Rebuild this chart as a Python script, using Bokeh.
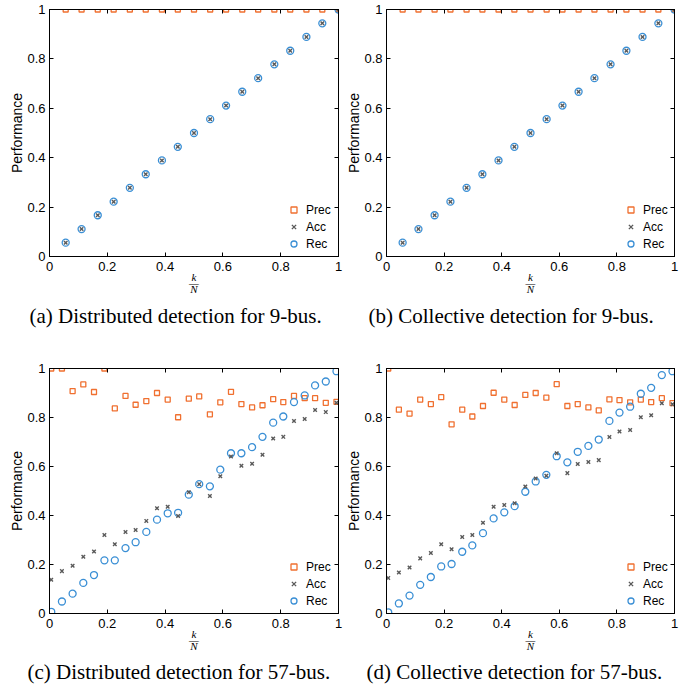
from bokeh.plotting import figure
from bokeh.models import (LinearAxis, FixedTicker, Legend, LegendItem, Title,
                          CustomJSTickFormatter, Range1d)
from bokeh.layouts import column, row
from bokeh.embed import file_html
from bokeh.resources import INLINE

# ---------------- data ----------------
TICK_VALUES = [0.0, 0.2, 0.4, 0.6, 0.8, 1.0]
TICK_LABELS = ["0", "0.2", "0.4", "0.6", "0.8", "1"]

SERIES_NAMES = ["Prec", "Acc", "Rec"]

# 9-bus (k/N for 18 steps)
x_9bus = [0.056, 0.111, 0.167, 0.222, 0.278, 0.333, 0.389, 0.444, 0.500,
          0.556, 0.611, 0.667, 0.722, 0.778, 0.833, 0.889, 0.944, 1.000]
prec_a = [1.0, 1.0, 1.0, 1.0, 1.0, 1.0, 1.0, 1.0, 1.0,
          1.0, 1.0, 1.0, 1.0, 1.0, 1.0, 1.0, 1.0, 1.0]
acc_a = [0.056, 0.111, 0.167, 0.222, 0.278, 0.333, 0.389, 0.444, 0.500,
         0.556, 0.611, 0.667, 0.722, 0.778, 0.833, 0.889, 0.944, 1.000]
rec_a = [0.056, 0.111, 0.167, 0.222, 0.278, 0.333, 0.389, 0.444, 0.500,
         0.556, 0.611, 0.667, 0.722, 0.778, 0.833, 0.889, 0.944, 1.000]
prec_b = [1.0, 1.0, 1.0, 1.0, 1.0, 1.0, 1.0, 1.0, 1.0,
          1.0, 1.0, 1.0, 1.0, 1.0, 1.0, 1.0, 1.0, 1.0]
acc_b = [0.056, 0.111, 0.167, 0.222, 0.278, 0.333, 0.389, 0.444, 0.500,
         0.556, 0.611, 0.667, 0.722, 0.778, 0.833, 0.889, 0.944, 1.000]
rec_b = [0.056, 0.111, 0.167, 0.222, 0.278, 0.333, 0.389, 0.444, 0.500,
         0.556, 0.611, 0.667, 0.722, 0.778, 0.833, 0.889, 0.944, 1.000]

# 57-bus (28 steps)
x_57bus = [0.006, 0.043, 0.080, 0.117, 0.154, 0.190, 0.226, 0.263, 0.298, 0.335,
           0.372, 0.409, 0.445, 0.482, 0.518, 0.555, 0.591, 0.628, 0.664, 0.701,
           0.737, 0.774, 0.809, 0.846, 0.883, 0.919, 0.956, 0.993]
prec_c = [1.0, 1.0, 0.908, 0.935, 0.904, 1.0, 0.837, 0.888, 0.852, 0.867,
          0.900, 0.873, 0.801, 0.877, 0.886, 0.813, 0.862, 0.905, 0.855, 0.841,
          0.850, 0.875, 0.863, 0.888, 0.879, 0.879, 0.860, 0.864]
acc_c = [0.138, 0.173, 0.195, 0.232, 0.253, 0.320, 0.283, 0.333, 0.341, 0.378,
         0.430, 0.436, 0.398, 0.495, 0.528, 0.480, 0.560, 0.641, 0.603, 0.611,
         0.648, 0.714, 0.721, 0.786, 0.794, 0.831, 0.822, 0.860]
rec_c = [0.007, 0.049, 0.081, 0.125, 0.157, 0.217, 0.217, 0.267, 0.291, 0.333,
         0.383, 0.409, 0.411, 0.485, 0.528, 0.519, 0.587, 0.654, 0.654, 0.679,
         0.721, 0.779, 0.804, 0.863, 0.890, 0.931, 0.947, 0.989]
prec_d = [1.0, 0.832, 0.816, 0.873, 0.855, 0.883, 0.772, 0.832, 0.804, 0.847,
          0.901, 0.873, 0.851, 0.892, 0.900, 0.881, 0.936, 0.847, 0.855, 0.841,
          0.829, 0.874, 0.871, 0.862, 0.873, 0.863, 0.879, 0.859]
acc_d = [0.145, 0.167, 0.188, 0.225, 0.247, 0.283, 0.262, 0.312, 0.320, 0.370,
         0.436, 0.443, 0.450, 0.518, 0.551, 0.562, 0.654, 0.573, 0.610, 0.618,
         0.626, 0.720, 0.743, 0.749, 0.801, 0.809, 0.858, 0.854]
rec_d = [0.005, 0.041, 0.073, 0.117, 0.149, 0.192, 0.202, 0.252, 0.278, 0.328,
         0.388, 0.413, 0.438, 0.497, 0.539, 0.566, 0.642, 0.617, 0.660, 0.684,
         0.710, 0.786, 0.820, 0.844, 0.897, 0.921, 0.973, 0.989]

CAPTIONS = ["(a) Distributed detection for 9-bus.",
            "(b) Collective detection for 9-bus.",
            "(c) Distributed detection for 57-bus.",
            "(d) Collective detection for 57-bus."]
Y_LABEL = "Performance"
X_LABEL = "k\n\u2014\nN"

# ---------------- styles ----------------
ORANGE = "#F07030"
GRAY = "#5A5A5A"
BLUE = "#3A8FD5"
SANS = "Liberation Sans"
SERIF = "Liberation Serif"

OVERRIDES = dict(zip(TICK_VALUES, TICK_LABELS))


def style_ticks(ax, tick_in):
    ax.ticker = FixedTicker(ticks=TICK_VALUES)
    ax.minor_tick_in = 0
    ax.minor_tick_out = 0
    ax.major_tick_in = tick_in
    ax.major_tick_out = 0
    ax.axis_line_color = "black"
    ax.axis_line_width = 1
    ax.major_tick_line_color = "black"
    ax.major_tick_line_width = 1


def blank_axis():
    ax = LinearAxis()
    style_ticks(ax, 4)
    ax.formatter = CustomJSTickFormatter(code="return ''")
    ax.major_label_text_font_size = "1px"
    ax.major_label_text_color = None
    ax.major_label_standoff = 0
    return ax


def make_panel(x, prec, acc, rec, caption, frame_w, frame_h, left, right,
               top, bottom, cap_offset, cap_standoff):
    p = figure(width=left + frame_w + right, height=top + frame_h + bottom,
               x_range=Range1d(0, 1), y_range=Range1d(0, 1),
               output_backend="svg", toolbar_location=None,
               min_border_left=left, min_border_right=right,
               min_border_top=top, min_border_bottom=bottom)
    p.outline_line_color = "black"
    p.outline_line_width = 1
    p.grid.visible = False
    p.background_fill_color = "white"
    p.border_fill_color = "white"

    xa = p.xaxis[0]
    style_ticks(xa, 4)
    xa.major_label_overrides = OVERRIDES
    xa.major_label_standoff = 5
    xa.major_label_text_font = SANS
    xa.major_label_text_font_size = "13px"
    xa.major_label_text_color = "black"
    xa.axis_label = X_LABEL
    xa.axis_label_text_font = SERIF
    xa.axis_label_text_font_style = "italic"
    xa.axis_label_text_font_size = "11px"
    xa.axis_label_text_line_height = 0.51
    xa.axis_label_text_color = "black"
    xa.axis_label_standoff = -3

    ya = p.yaxis[0]
    style_ticks(ya, 4)
    ya.major_label_overrides = OVERRIDES
    ya.major_label_standoff = 4
    ya.major_label_text_font = SANS
    ya.major_label_text_font_size = "13px"
    ya.major_label_text_color = "black"
    ya.axis_label = Y_LABEL
    ya.axis_label_text_font = SANS
    ya.axis_label_text_font_size = "14px"
    ya.axis_label_text_font_style = "normal"
    ya.axis_label_text_color = "black"
    ya.axis_label_standoff = -1

    # top and right box edges with inward ticks
    p.add_layout(blank_axis(), "above")
    p.add_layout(blank_axis(), "right")

    r_prec = p.scatter(x, prec, marker="square", size=5, line_color=ORANGE,
                       fill_color=None, line_width=1.3)
    r_rec = p.scatter(x, rec, marker="circle", size=7, line_color=BLUE,
                      fill_color=None, line_width=1.3)
    r_acc = p.scatter(x, acc, marker="x", size=5, line_color=GRAY,
                      line_width=1.4)

    legend = Legend(items=[LegendItem(label=SERIES_NAMES[0], renderers=[r_prec]),
                           LegendItem(label=SERIES_NAMES[1], renderers=[r_acc]),
                           LegendItem(label=SERIES_NAMES[2], renderers=[r_rec])],
                    location=(237, 5), padding=0, margin=0, spacing=2,
                    glyph_width=15, glyph_height=15, label_height=15,
                    label_standoff=5, label_text_font=SANS,
                    label_text_font_size="12px", label_text_color="black",
                    border_line_color=None, background_fill_alpha=0)
    p.add_layout(legend)

    p.add_layout(Title(text=caption, align="left", offset=cap_offset,
                       standoff=cap_standoff, text_font=SERIF,
                       text_font_size="21px", text_font_style="normal",
                       text_color="black"), "below")
    return p


pa = make_panel(x_9bus, prec_a, acc_a, rec_a, CAPTIONS[0], 289, 247,
                49, 5, 9, 76, -20, 8)
pb = make_panel(x_9bus, prec_b, acc_b, rec_b, CAPTIONS[1], 288, 247,
                43, 6, 9, 76, -18, 8)
pc = make_panel(x_57bus, prec_c, acc_c, rec_c, CAPTIONS[2], 289, 245,
                49, 5, 36, 74, -22, 6)
pd = make_panel(x_57bus, prec_d, acc_d, rec_d, CAPTIONS[3], 288, 245,
                43, 6, 36, 74, -20, 6)

layout = column(row(pa, pb), row(pc, pd))
open("out.html", "w").write(file_html(layout, INLINE))
